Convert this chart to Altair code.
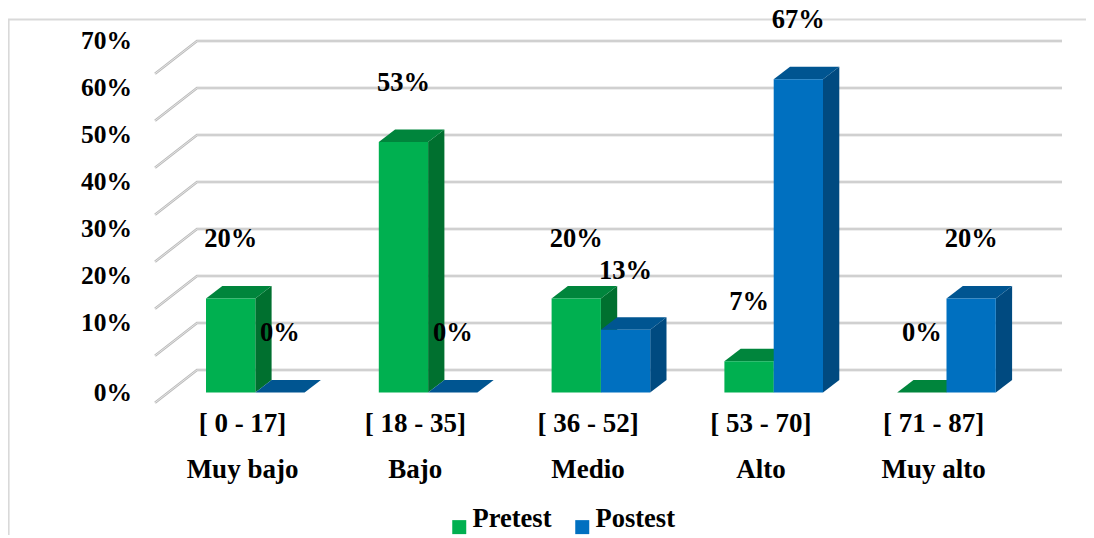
import altair as alt
import pandas as pd

categories = ["Muy bajo", "Bajo", "Medio", "Alto", "Muy alto"]
ranges = ["[ 0 - 17]", "[ 18 - 35]", "[ 36 - 52]", "[ 53 - 70]", "[ 71 - 87]"]
series_names = ["Pretest", "Postest"]
pretest = [20.0, 53.3, 20.0, 6.67, 0.0]
postest = [0.0, 0.0, 13.33, 66.67, 20.0]
labels_pre = ["20%", "53%", "20%", "7%", "0%"]
labels_post = ["0%", "0%", "13%", "67%", "20%"]
ticks = [0, 10, 20, 30, 40, 50, 60, 70]

front = {"Pretest": "#00b050", "Postest": "#0070c0"}
side = {"Pretest": "#00702f", "Postest": "#004a80"}
top = {"Pretest": "#00853c", "Postest": "#005591"}

FONT = "Liberation Serif"
PX_CAT = 172.8
PX_PCT = 4.70
X0 = 206.0
Y0 = 392.5
W = 1078
H = 527

def cx(px):
    return (px - X0) / PX_CAT

def vy(py):
    return (Y0 - py) / PX_PCT

BAR = 49.3 / PX_CAT
DX = 16.3 / PX_CAT
DY = 12.5 / PX_PCT
WALL_DY = 22.5 / PX_PCT
FLOOR_DY = -10.2 / PX_PCT
xscale = alt.Scale(domain=[cx(8), cx(8 + W)], zero=False, nice=False)
yscale = alt.Scale(domain=[vy(8 + H), vy(8)], zero=False, nice=False)
X = lambda f, **k: alt.X(f, type="quantitative", scale=xscale, axis=None, **k)
Y = lambda f, **k: alt.Y(f, type="quantitative", scale=yscale, axis=None, **k)

# frame
frame = pd.DataFrame({"x": [cx(8.6), cx(8.6), cx(8 + W)], "y": [vy(8 + H), vy(19.5), vy(19.5)],
                      "o": [0, 1, 2]})
frame_ch = alt.Chart(frame).mark_line(color="#d9d9d9", strokeWidth=2).encode(
    x=X("x"), y=Y("y"), order="o:Q")

# walls: floor/wall gridlines
grid_rows = []
for t in ticks:
    grid_rows += [
        {"t": t, "o": 0, "x": cx(155), "y": t + FLOOR_DY},
        {"t": t, "o": 1, "x": cx(197), "y": t + WALL_DY},
        {"t": t, "o": 2, "x": cx(1062), "y": t + WALL_DY},
    ]
grid = pd.DataFrame(grid_rows)
grid_a = alt.Chart(grid).mark_line(color="#bcbcbc", strokeWidth=2.6).encode(
    x=X("x"), y=Y("y"), detail="t:N", order="o:Q")
grid_b = alt.Chart(grid).mark_line(color="#e4e4e4", strokeWidth=1).encode(
    x=X("x"), y=Y("y"), detail="t:N", order="o:Q")

layers = [frame_ch, grid_a, grid_b]
color_scale = alt.Scale(domain=series_names, range=[front[s] for s in series_names])

for s_i, (name, vals) in enumerate(zip(series_names, [pretest, postest])):
    rect_rows, side_rows, top_rows = [], [], []
    for c_i, v in enumerate(vals):
        xl = c_i + s_i * BAR
        xr = xl + BAR
        rect_rows.append({"series": name, "xl": xl, "xr": xr, "v": v, "z": 0})
        side_rows += [
            {"b": c_i, "x": xr, "y": 0, "y2": v},
            {"b": c_i, "x": xr + DX, "y": DY, "y2": v + DY},
        ]
        top_rows += [
            {"b": c_i, "y": v, "x": xl, "x2": xr},
            {"b": c_i, "y": v + DY, "x": xl + DX, "x2": xr + DX},
        ]
    layers.append(alt.Chart(pd.DataFrame(side_rows)).mark_area(
        orient="vertical", color=side[name]).encode(
        x=X("x"), y=Y("y"), y2="y2:Q", detail="b:N"))
    layers.append(alt.Chart(pd.DataFrame(top_rows)).mark_area(
        orient="horizontal", color=top[name]).encode(
        y=Y("y"), x=X("x"), x2="x2:Q", detail="b:N"))
    layers.append(alt.Chart(pd.DataFrame(rect_rows)).mark_rect().encode(
        x=X("xl"), x2="xr:Q", y=Y("z"), y2="v:Q",
        color=alt.Color("series:N", scale=color_scale, legend=alt.Legend(
            orient="none", legendX=438, legendY=505.5, direction="horizontal", title=None,
            symbolType="square", symbolSize=196, symbolStrokeWidth=0, symbolOpacity=1,
            labelFont=FONT, labelFontSize=26.5, labelFontWeight="bold", labelColor="black",
            labelBaseline="alphabetic", labelOffset=0, columnPadding=17, padding=0,
            labelLimit=200))))

# value labels
lab_rows = []
for s_i, (vals, labs) in enumerate(zip([pretest, postest], [labels_pre, labels_post])):
    for c_i, (v, l) in enumerate(zip(vals, labs)):
        lab_rows.append({"x": c_i + (s_i + 0.5) * BAR, "y": v + DY + 46.8 / PX_PCT, "l": l})
txt = dict(font=FONT, fontWeight="bold", color="black")
layers.append(alt.Chart(pd.DataFrame(lab_rows)).mark_text(
    align="center", baseline="middle", fontSize=26.5, **txt).encode(x=X("x"), y=Y("y"), text="l:N"))

# y tick labels (0% sits on the front of the floor, the rest on the wall)
ylab = pd.DataFrame({
    "x": [cx(132)] * len(ticks),
    "y": [t + WALL_DY if t > 0 else t for t in ticks],
    "l": [f"{t}%" for t in ticks],
})
layers.append(alt.Chart(ylab).mark_text(
    align="right", baseline="middle", fontSize=25.5, **txt).encode(x=X("x"), y=Y("y"), text="l:N"))

# category labels
cat = pd.DataFrame({"x": [i + cx(242.5) for i in range(5)], "r": ranges, "c": categories})
cat["y1"] = vy(431.7)
cat["y2"] = vy(477.5)
layers.append(alt.Chart(cat).mark_text(
    align="center", baseline="alphabetic", fontSize=27, **txt).encode(x=X("x"), y=Y("y1"), text="r:N"))
layers.append(alt.Chart(cat).mark_text(
    align="center", baseline="alphabetic", fontSize=27, **txt).encode(x=X("x"), y=Y("y2"), text="c:N"))

chart = alt.layer(*layers).properties(
    width=W, height=H, padding=0, autosize=alt.AutoSizeParams(type="none"),
    background="white",
).configure_view(stroke=None)

chart.save("out.html", embed_options={"renderer": "svg", "actions": False})
